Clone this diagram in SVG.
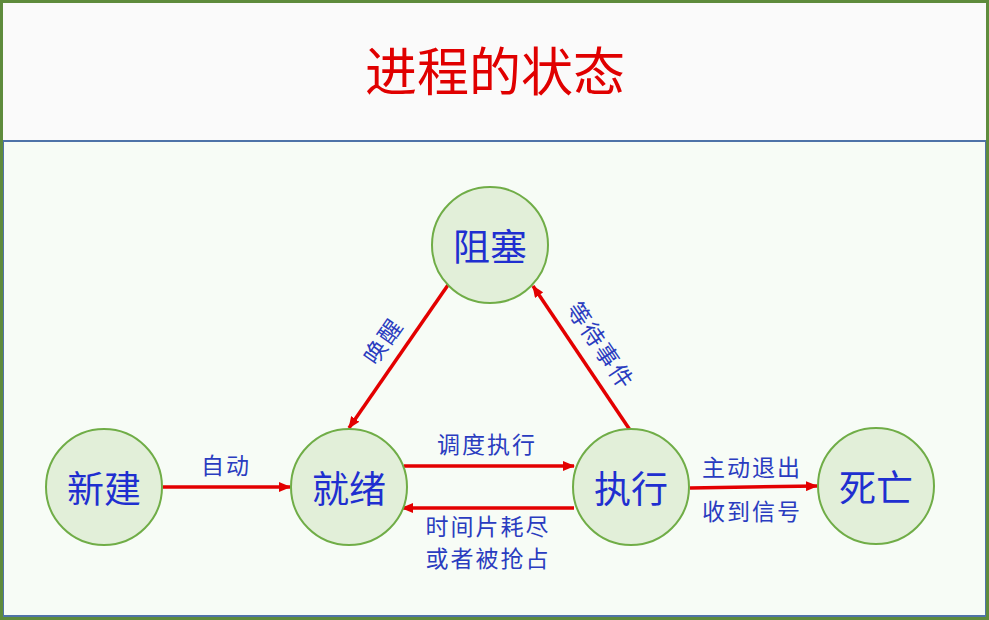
<svg xmlns="http://www.w3.org/2000/svg" width="989" height="620" viewBox="0 0 989 620">
<style>
.node circle{fill:#e2efd9;stroke:#70ad47;stroke-width:2}
.node text{font-family:"Noto Sans CJK SC","Liberation Sans",sans-serif;font-size:37px;fill:#1f2fd0;text-anchor:middle;dominant-baseline:central}
.lbl{font-family:"Noto Sans CJK SC","Liberation Sans",sans-serif;font-size:23px;fill:#2a3cc0;text-anchor:middle;dominant-baseline:central;letter-spacing:2px}
.edge{stroke:#e30000;stroke-width:3.5;fill:none;marker-end:url(#ah)}
</style>
<defs>
<marker id="ah" viewBox="0 0 12 10" refX="11" refY="5" markerWidth="12" markerHeight="10" markerUnits="userSpaceOnUse" orient="auto">
<path d="M0,0 L12,5 L0,10 z" fill="#e30000"/>
</marker>
</defs>
<rect x="0" y="0" width="989" height="620" fill="#fafafa"/>
<rect x="3" y="141" width="983" height="475" fill="#f7fcf6" stroke="#4f73a8" stroke-width="2"/>
<rect x="1.5" y="1.5" width="986" height="617" fill="none" stroke="#5e8b3c" stroke-width="3"/>
<text x="495" y="68" font-family="Noto Sans CJK SC,Liberation Sans,sans-serif" font-size="52" fill="#e00000" text-anchor="middle" dominant-baseline="central">进程的状态</text>
<g id="connectors">
<line class="edge" x1="163" y1="487" x2="290" y2="487"/>
<line class="edge" x1="404" y1="466" x2="574" y2="466"/>
<line class="edge" x1="574" y1="508" x2="402" y2="508"/>
<line class="edge" x1="690" y1="488" x2="817" y2="486"/>
<line class="edge" x1="448" y1="285" x2="349" y2="428"/>
<line class="edge" x1="630" y1="430" x2="533" y2="286"/>
<text class="lbl" x="226" y="464">自动</text>
<text class="lbl" x="487" y="443">调度执行</text>
<text class="lbl" x="488" y="525">时间片耗尽</text>
<text class="lbl" x="488" y="557">或者被抢占</text>
<text class="lbl" x="752" y="466">主动退出</text>
<text class="lbl" x="752" y="510">收到信号</text>
<text class="lbl" transform="translate(382,340) rotate(-55)">唤醒</text>
<text class="lbl" transform="translate(602,345) rotate(56)">等待事件</text>
</g>
<g id="n-new" class="node"><circle cx="104" cy="487" r="58"/><text x="104" y="487">新建</text></g>
<g id="n-ready" class="node"><circle cx="349" cy="487" r="58"/><text x="349" y="487">就绪</text></g>
<g id="n-run" class="node"><circle cx="631" cy="487" r="58"/><text x="631" y="487">执行</text></g>
<g id="n-dead" class="node"><circle cx="876" cy="486" r="58"/><text x="876" y="486">死亡</text></g>
<g id="n-block" class="node"><circle cx="490" cy="245" r="58"/><text x="490" y="245">阻塞</text></g>
</svg>
